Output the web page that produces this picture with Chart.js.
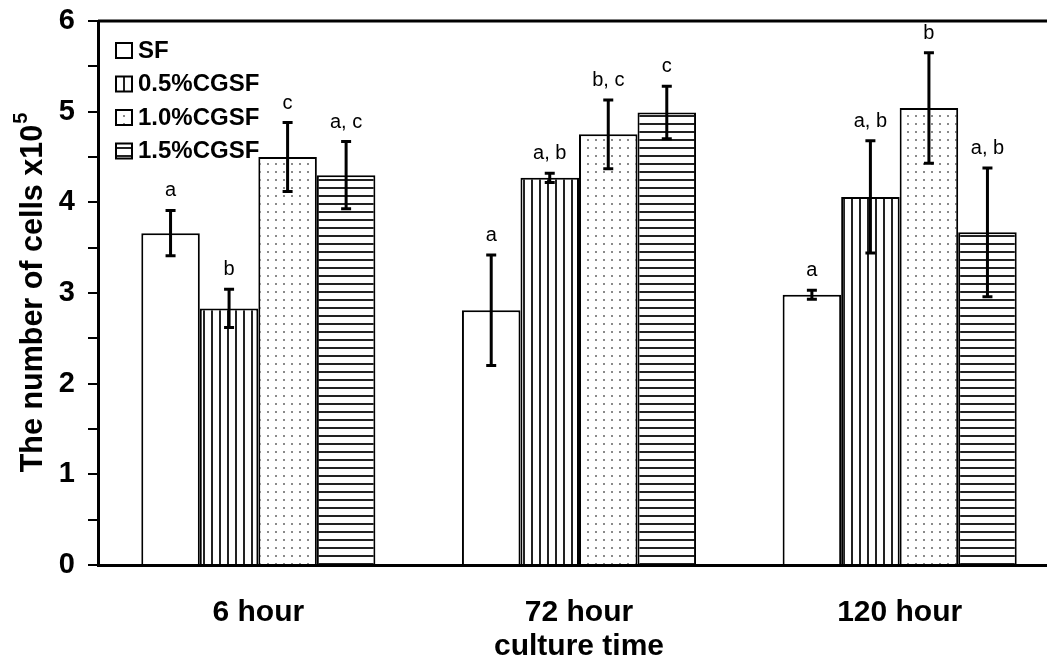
<!DOCTYPE html>
<html>
<head>
<meta charset="utf-8">
<script src="https://cdn.jsdelivr.net/npm/chart.js@4.4.1/dist/chart.umd.min.js"></script>
<style>
  html, body { margin: 0; padding: 0; background: #fff; overflow: hidden; }
  #wrap { width: 1047px; height: 665px; overflow: hidden; }
</style>
</head>
<body>
<div id="wrap"><canvas id="cellChart" width="1064" height="665"></canvas></div>
<script>
// Data
const categories = ['6 hour', '72 hour', '120 hour'];
const seriesLabels = ['SF', '0.5%CGSF', '1.0%CGSF', '1.5%CGSF'];

const sfValues = [3.66, 2.81, 2.98];
const sfErrors = [0.25, 0.61, 0.05];
const sfLetters = ['a', 'a', 'a'];

const cg05Values = [2.83, 4.27, 4.06];
const cg05Errors = [0.21, 0.05, 0.62];
const cg05Letters = ['b', 'a, b', 'a, b'];

const cg10Values = [4.50, 4.75, 5.04];
const cg10Errors = [0.38, 0.38, 0.61];
const cg10Letters = ['c', 'b, c', 'b'];

const cg15Values = [4.30, 4.99, 3.67];
const cg15Errors = [0.37, 0.29, 0.71];
const cg15Letters = ['a, c', 'c', 'a, b'];

const yMin = 0;
const yMax = 6;

const FONT = '"Liberation Sans", Arial, sans-serif';

// Hatch fills for the bars
function makePattern(kind) {
  const c = document.createElement('canvas');
  c.width = 8;
  c.height = 8;
  const g = c.getContext('2d');
  g.fillStyle = '#fff';
  g.fillRect(0, 0, 8, 8);
  if (kind === 'vertical') {
    g.fillStyle = '#222';
    g.fillRect(3, 0, 2, 8);
  } else if (kind === 'dots') {
    g.fillStyle = '#8a8a8a';
    g.fillRect(3, 3, 2, 2);
  } else if (kind === 'horizontal') {
    g.fillStyle = '#222';
    g.fillRect(0, 3, 8, 2);
  }
  return g.createPattern(c, 'repeat');
}

function makeDataset(label, values, errors, letters, fill) {
  return {
    label: label,
    data: values,
    errors: errors,
    letters: letters,
    backgroundColor: fill,
    borderColor: '#000',
    borderWidth: 2,
    borderSkipped: 'start',
    categoryPercentage: 0.73,
    barPercentage: 1.0
  };
}

// Error bars and significance letters
const errorBars = {
  id: 'errorBars',
  afterDatasetsDraw(chart) {
    const ctx = chart.ctx;
    const y = chart.scales.y;
    chart.data.datasets.forEach((ds, i) => {
      chart.getDatasetMeta(i).data.forEach((bar, j) => {
        const v = ds.data[j];
        const e = ds.errors[j];
        const top = y.getPixelForValue(v + e);
        const bottom = y.getPixelForValue(v - e);
        const x = bar.x;
        ctx.save();
        ctx.strokeStyle = '#000';
        ctx.lineWidth = 3;
        ctx.beginPath();
        ctx.moveTo(x, top);
        ctx.lineTo(x, bottom);
        ctx.moveTo(x - 5, top);
        ctx.lineTo(x + 5, top);
        ctx.moveTo(x - 5, bottom);
        ctx.lineTo(x + 5, bottom);
        ctx.stroke();
        ctx.fillStyle = '#000';
        ctx.font = '20px ' + FONT;
        ctx.textAlign = 'center';
        ctx.textBaseline = 'alphabetic';
        ctx.fillText(ds.letters[j], x, top - 14);
        ctx.restore();
      });
    });
  }
};

// Frame line, legend and y title with superscript
const extras = {
  id: 'extras',
  afterDraw(chart) {
    const ctx = chart.ctx;
    const area = chart.chartArea;
    ctx.save();

    ctx.strokeStyle = '#000';
    ctx.lineWidth = 3;
    ctx.beginPath();
    ctx.moveTo(area.left, area.top);
    ctx.lineTo(area.right, area.top);
    ctx.stroke();

    chart.data.datasets.forEach((ds, i) => {
      const cy = area.top + 29 + i * 33.5;
      const bx = area.left + 18;
      ctx.fillStyle = ds.backgroundColor;
      ctx.fillRect(bx, cy - 7, 16, 15);
      ctx.lineWidth = 2;
      ctx.strokeStyle = '#000';
      ctx.strokeRect(bx, cy - 7, 16, 15);
      ctx.fillStyle = '#000';
      ctx.font = 'bold 24px ' + FONT;
      ctx.textAlign = 'left';
      ctx.textBaseline = 'middle';
      ctx.fillText(ds.label, bx + 22, cy + 1);
    });

    const main = 'The number of cells x10';
    const sup = '5';
    ctx.font = 'bold 30.5px ' + FONT;
    const mainW = ctx.measureText(main).width;
    ctx.font = 'bold 20px ' + FONT;
    const supW = ctx.measureText(sup).width;
    const total = mainW + supW;
    ctx.translate(42, (area.top + area.bottom) / 2);
    ctx.rotate(-Math.PI / 2);
    ctx.fillStyle = '#000';
    ctx.textAlign = 'left';
    ctx.textBaseline = 'alphabetic';
    ctx.font = 'bold 30.5px ' + FONT;
    ctx.fillText(main, -total / 2, 0);
    ctx.font = 'bold 20px ' + FONT;
    ctx.fillText(sup, -total / 2 + mainW + 1, -15);
    ctx.restore();
  }
};

new Chart(document.getElementById('cellChart'), {
  type: 'bar',
  data: {
    labels: categories,
    datasets: [
      makeDataset(seriesLabels[0], sfValues, sfErrors, sfLetters, '#fff'),
      makeDataset(seriesLabels[1], cg05Values, cg05Errors, cg05Letters, makePattern('vertical')),
      makeDataset(seriesLabels[2], cg10Values, cg10Errors, cg10Letters, makePattern('dots')),
      makeDataset(seriesLabels[3], cg15Values, cg15Errors, cg15Letters, makePattern('horizontal'))
    ]
  },
  options: {
    responsive: false,
    animation: false,
    layout: { padding: { top: 21, right: 4, left: 0, bottom: 0 } },
    plugins: {
      legend: { display: false },
      tooltip: { enabled: false }
    },
    scales: {
      x: {
        grid: { display: false, drawTicks: false },
        border: { display: true, color: '#000', width: 3 },
        ticks: {
          color: '#000',
          padding: 30,
          font: { family: FONT, size: 30, weight: 'bold' }
        },
        title: {
          display: true,
          text: 'culture time',
          color: '#000',
          padding: { top: 0, bottom: 0 },
          font: { family: FONT, size: 30, weight: 'bold' }
        },
        afterFit(scale) { scale.height = 100; }
      },
      y: {
        min: yMin,
        max: yMax,
        grid: {
          drawOnChartArea: false,
          drawTicks: true,
          tickLength: 10,
          color: '#000',
          lineWidth: 2
        },
        border: { display: true, color: '#000', width: 3 },
        ticks: {
          stepSize: 0.5,
          autoSkip: false,
          padding: 13,
          color: '#000',
          font: { family: FONT, size: 29, weight: 'bold' },
          callback: v => Number.isInteger(v) ? v : ''
        },
        afterFit(scale) {
          scale.width = 98;
          scale.paddingTop = 0;
          scale.paddingBottom = 0;
        }
      }
    }
  },
  plugins: [errorBars, extras]
});
</script>
</body>
</html>
